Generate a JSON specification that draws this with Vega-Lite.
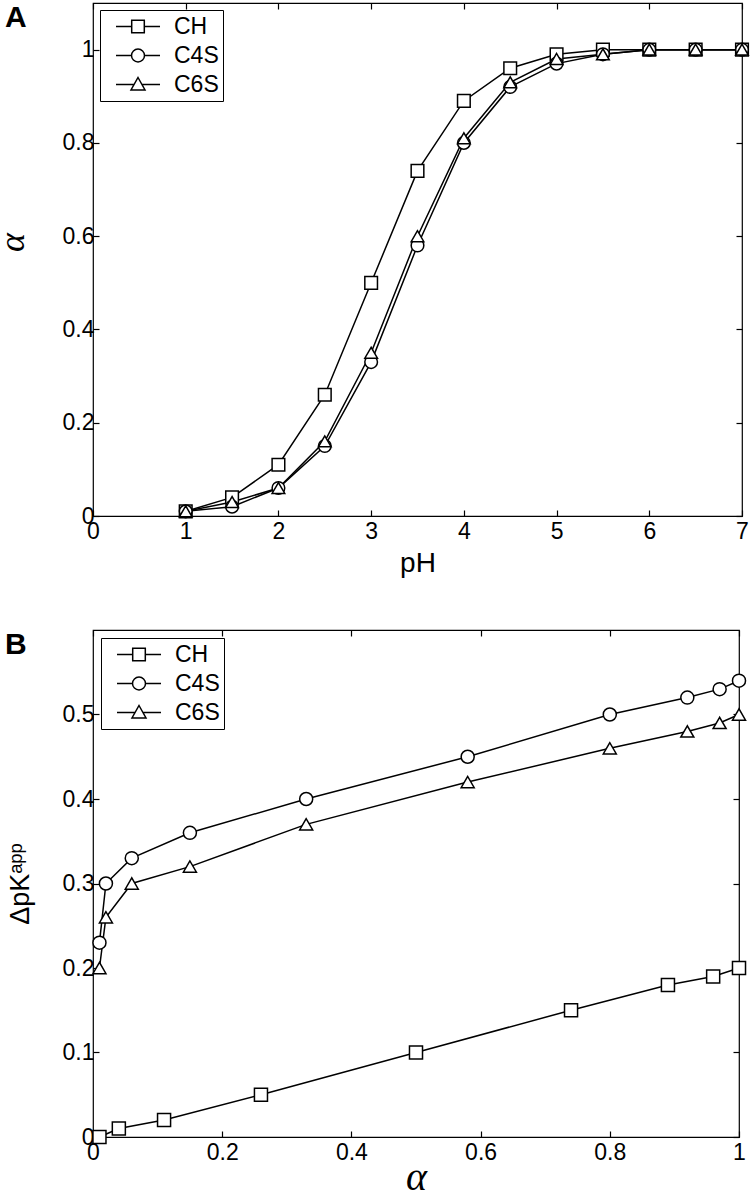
{
  "$schema": "https://vega.github.io/schema/vega-lite/v6.json",
  "background": "white",
  "padding": {"left": -7, "top": 1, "right": 5, "bottom": 0},
  "spacing": 50,
  "resolve": {"scale": {"shape": "independent"}, "legend": {"shape": "independent"}},
  "config": {
    "font": "Liberation Sans",
    "view": {"stroke": "black", "strokeWidth": 1.2},
    "axis": {"grid": false, "domain": false, "ticks": true, "tickColor": "black", "tickSize": -6, "tickWidth": 1.2, "labelColor": "black", "labelFont": "Liberation Sans", "labelFontSize": 23, "titleColor": "black", "titleFontWeight": "normal", "labelFlush": false, "labelOverlap": false, "labelBound": false},
    "legend": {"labelFont": "Liberation Sans", "labelFontSize": 23, "labelColor": "black"}
  },
  "datasets": {
    "a": [
      {"series": "CH", "x": 1, "y": 0.01}, {"series": "CH", "x": 1.5, "y": 0.04}, {"series": "CH", "x": 2, "y": 0.11}, {"series": "CH", "x": 2.5, "y": 0.26}, {"series": "CH", "x": 3, "y": 0.5}, {"series": "CH", "x": 3.5, "y": 0.74}, {"series": "CH", "x": 4, "y": 0.89}, {"series": "CH", "x": 4.5, "y": 0.96}, {"series": "CH", "x": 5, "y": 0.99}, {"series": "CH", "x": 5.5, "y": 1.0}, {"series": "CH", "x": 6, "y": 1.0}, {"series": "CH", "x": 6.5, "y": 1.0}, {"series": "CH", "x": 7, "y": 1.0},
      {"series": "C4S", "x": 1, "y": 0.01}, {"series": "C4S", "x": 1.5, "y": 0.02}, {"series": "C4S", "x": 2, "y": 0.06}, {"series": "C4S", "x": 2.5, "y": 0.15}, {"series": "C4S", "x": 3, "y": 0.33}, {"series": "C4S", "x": 3.5, "y": 0.58}, {"series": "C4S", "x": 4, "y": 0.8}, {"series": "C4S", "x": 4.5, "y": 0.92}, {"series": "C4S", "x": 5, "y": 0.97}, {"series": "C4S", "x": 5.5, "y": 0.99}, {"series": "C4S", "x": 6, "y": 1.0}, {"series": "C4S", "x": 6.5, "y": 1.0}, {"series": "C4S", "x": 7, "y": 1.0},
      {"series": "C6S", "x": 1, "y": 0.01}, {"series": "C6S", "x": 1.5, "y": 0.03}, {"series": "C6S", "x": 2, "y": 0.06}, {"series": "C6S", "x": 2.5, "y": 0.16}, {"series": "C6S", "x": 3, "y": 0.35}, {"series": "C6S", "x": 3.5, "y": 0.6}, {"series": "C6S", "x": 4, "y": 0.81}, {"series": "C6S", "x": 4.5, "y": 0.93}, {"series": "C6S", "x": 5, "y": 0.98}, {"series": "C6S", "x": 5.5, "y": 0.99}, {"series": "C6S", "x": 6, "y": 1.0}, {"series": "C6S", "x": 6.5, "y": 1.0}, {"series": "C6S", "x": 7, "y": 1.0}
    ],
    "b": [
      {"series": "CH", "x": 0.01, "y": 0.0}, {"series": "CH", "x": 0.04, "y": 0.01}, {"series": "CH", "x": 0.11, "y": 0.02}, {"series": "CH", "x": 0.26, "y": 0.05}, {"series": "CH", "x": 0.5, "y": 0.1}, {"series": "CH", "x": 0.74, "y": 0.15}, {"series": "CH", "x": 0.89, "y": 0.18}, {"series": "CH", "x": 0.96, "y": 0.19}, {"series": "CH", "x": 1.0, "y": 0.2},
      {"series": "C4S", "x": 0.01, "y": 0.23}, {"series": "C4S", "x": 0.02, "y": 0.3}, {"series": "C4S", "x": 0.06, "y": 0.33}, {"series": "C4S", "x": 0.15, "y": 0.36}, {"series": "C4S", "x": 0.33, "y": 0.4}, {"series": "C4S", "x": 0.58, "y": 0.45}, {"series": "C4S", "x": 0.8, "y": 0.5}, {"series": "C4S", "x": 0.92, "y": 0.52}, {"series": "C4S", "x": 0.97, "y": 0.53}, {"series": "C4S", "x": 1.0, "y": 0.54},
      {"series": "C6S", "x": 0.01, "y": 0.2}, {"series": "C6S", "x": 0.02, "y": 0.26}, {"series": "C6S", "x": 0.06, "y": 0.3}, {"series": "C6S", "x": 0.15, "y": 0.32}, {"series": "C6S", "x": 0.33, "y": 0.37}, {"series": "C6S", "x": 0.58, "y": 0.42}, {"series": "C6S", "x": 0.8, "y": 0.46}, {"series": "C6S", "x": 0.92, "y": 0.48}, {"series": "C6S", "x": 0.97, "y": 0.49}, {"series": "C6S", "x": 1.0, "y": 0.5}
    ]
  },
  "vconcat": [
    {
      "width": 649,
      "height": 513,
      "title": {"text": "A", "anchor": "start", "frame": "group", "dx": -88, "offset": -31, "fontSize": 30, "fontWeight": "bold", "color": "black", "font": "Liberation Sans"},
      "data": {"name": "a"},
      "layer": [
        {
          "mark": {"type": "line", "color": "black", "strokeWidth": 1.5},
          "encoding": {
            "x": {"field": "x", "type": "quantitative", "scale": {"domain": [0, 7], "nice": false, "zero": false}, "axis": {"orient": "bottom", "values": [0, 1, 2, 3, 4, 5, 6, 7], "format": "~g", "labelFontSize": 23, "labelPadding": 10, "title": "pH", "titleFontSize": 28, "titleBaseline": "alphabetic", "titlePadding": 28}},
            "y": {"field": "y", "type": "quantitative", "scale": {"domain": [0, 1.1], "nice": false, "zero": false}, "axis": {"orient": "left", "values": [0, 0.2, 0.4, 0.6, 0.8, 1], "format": "~g", "labelFontSize": 23, "labelPadding": 5, "title": "α", "titleFont": "Liberation Serif", "titleFontStyle": "italic", "titleFontSize": 36, "titleBaseline": "alphabetic", "titlePadding": 39, "titleY": 239}},
            "detail": {"field": "series", "type": "nominal"}
          }
        },
        {
          "mark": {"type": "point", "filled": true, "fill": "white", "stroke": "black", "strokeWidth": 1.5, "size": 160, "opacity": 1},
          "encoding": {
            "x": {"field": "x", "type": "quantitative", "scale": {"domain": [0, 7], "nice": false, "zero": false}, "axis": {"orient": "top", "values": [0, 1, 2, 3, 4, 5, 6, 7], "labels": false, "title": null}},
            "y": {"field": "y", "type": "quantitative", "scale": {"domain": [0, 1.1], "nice": false, "zero": false}, "axis": {"orient": "right", "values": [0, 0.2, 0.4, 0.6, 0.8, 1], "labels": false, "title": null}},
            "shape": {"field": "series", "type": "nominal", "scale": {"domain": ["CH", "C4S", "C6S"], "range": ["square", "circle", "triangle-up"]}, "legend": null}
          }
        },
        {
          "transform": [{"filter": "false"}],
          "mark": {"type": "point", "filled": false, "stroke": "black", "strokeWidth": 1.5, "opacity": 1},
          "encoding": {
            "x": {"field": "x", "type": "quantitative", "scale": {"domain": [0, 7], "nice": false, "zero": false}, "axis": null},
            "y": {"field": "y", "type": "quantitative", "scale": {"domain": [0, 1.1], "nice": false, "zero": false}, "axis": null},
            "shape": {"field": "series", "type": "nominal",
              "scale": {"domain": ["CH", "C4S", "C6S"], "range": ["M-0.043,0H1.322M2.418,0H3.783M1.322,-0.548H2.418V0.548H1.322Z", "M-0.043,0H1.305M2.435,0H3.783M1.305,0A0.565,0.565,0,1,1,2.435,0A0.565,0.565,0,1,1,1.305,0Z", "M-0.043,0H1.529M2.211,0H3.783M1.870,-0.609L2.479,0.478L1.261,0.478Z"]},
              "legend": {"orient": "top-left", "offset": 7, "title": null, "strokeColor": "black", "fillColor": "white", "padding": 4, "symbolSize": 529, "symbolStrokeColor": "black", "symbolStrokeWidth": 1.5, "rowPadding": 4, "labelOffset": 45, "labelExpr": "datum.label + '\u00a0\u00a0\u00a0'"}}
          }
        }
      ],
      "resolve": {"axis": {"x": "independent", "y": "independent"}, "scale": {"shape": "independent"}, "legend": {"shape": "independent"}}
    },
    {
      "width": 646,
      "height": 507,
      "title": {"text": "B", "anchor": "start", "frame": "group", "dx": -88, "offset": -31, "fontSize": 30, "fontWeight": "bold", "color": "black", "font": "Liberation Sans"},
      "data": {"name": "b"},
      "layer": [
        {
          "mark": {"type": "line", "color": "black", "strokeWidth": 1.5},
          "encoding": {
            "x": {"field": "x", "type": "quantitative", "scale": {"domain": [0, 1], "nice": false, "zero": false}, "axis": {"orient": "bottom", "values": [0, 0.2, 0.4, 0.6, 0.8, 1], "format": "~g", "labelFontSize": 23, "labelPadding": 10, "title": "α", "titleFont": "Liberation Serif", "titleFontStyle": "italic", "titleFontSize": 40, "titleBaseline": "alphabetic", "titlePadding": 25}},
            "y": {"field": "y", "type": "quantitative", "scale": {"domain": [0, 0.6], "nice": false, "zero": false}, "axis": {"orient": "left", "values": [0, 0.1, 0.2, 0.3, 0.4, 0.5], "format": "~g", "labelFontSize": 23, "labelPadding": 5, "title": "ΔpKᵃᵖᵖ", "titleFontSize": 27, "titleBaseline": "alphabetic", "titlePadding": 34}},
            "detail": {"field": "series", "type": "nominal"}
          }
        },
        {
          "mark": {"type": "point", "filled": true, "fill": "white", "stroke": "black", "strokeWidth": 1.5, "size": 170, "opacity": 1},
          "encoding": {
            "x": {"field": "x", "type": "quantitative", "scale": {"domain": [0, 1], "nice": false, "zero": false}, "axis": {"orient": "top", "values": [0, 0.2, 0.4, 0.6, 0.8, 1], "labels": false, "title": null}},
            "y": {"field": "y", "type": "quantitative", "scale": {"domain": [0, 0.6], "nice": false, "zero": false}, "axis": {"orient": "right", "values": [0, 0.1, 0.2, 0.3, 0.4, 0.5], "labels": false, "title": null}},
            "shape": {"field": "series", "type": "nominal", "scale": {"domain": ["CH", "C4S", "C6S"], "range": ["square", "circle", "triangle-up"]}, "legend": null}
          }
        },
        {
          "transform": [{"filter": "false"}],
          "mark": {"type": "point", "filled": false, "stroke": "black", "strokeWidth": 1.5, "opacity": 1},
          "encoding": {
            "x": {"field": "x", "type": "quantitative", "scale": {"domain": [0, 1], "nice": false, "zero": false}, "axis": null},
            "y": {"field": "y", "type": "quantitative", "scale": {"domain": [0, 0.6], "nice": false, "zero": false}, "axis": null},
            "shape": {"field": "series", "type": "nominal",
              "scale": {"domain": ["CH", "C4S", "C6S"], "range": ["M-0.043,0H1.322M2.418,0H3.783M1.322,-0.548H2.418V0.548H1.322Z", "M-0.043,0H1.305M2.435,0H3.783M1.305,0A0.565,0.565,0,1,1,2.435,0A0.565,0.565,0,1,1,1.305,0Z", "M-0.043,0H1.529M2.211,0H3.783M1.870,-0.609L2.479,0.478L1.261,0.478Z"]},
              "legend": {"orient": "top-left", "offset": 8, "title": null, "strokeColor": "black", "fillColor": "white", "padding": 4, "symbolSize": 529, "symbolStrokeColor": "black", "symbolStrokeWidth": 1.5, "rowPadding": 4, "labelOffset": 45, "labelExpr": "datum.label + '\u00a0\u00a0\u00a0'"}}
          }
        }
      ],
      "resolve": {"axis": {"x": "independent", "y": "independent"}, "scale": {"shape": "independent"}, "legend": {"shape": "independent"}}
    }
  ]
}
